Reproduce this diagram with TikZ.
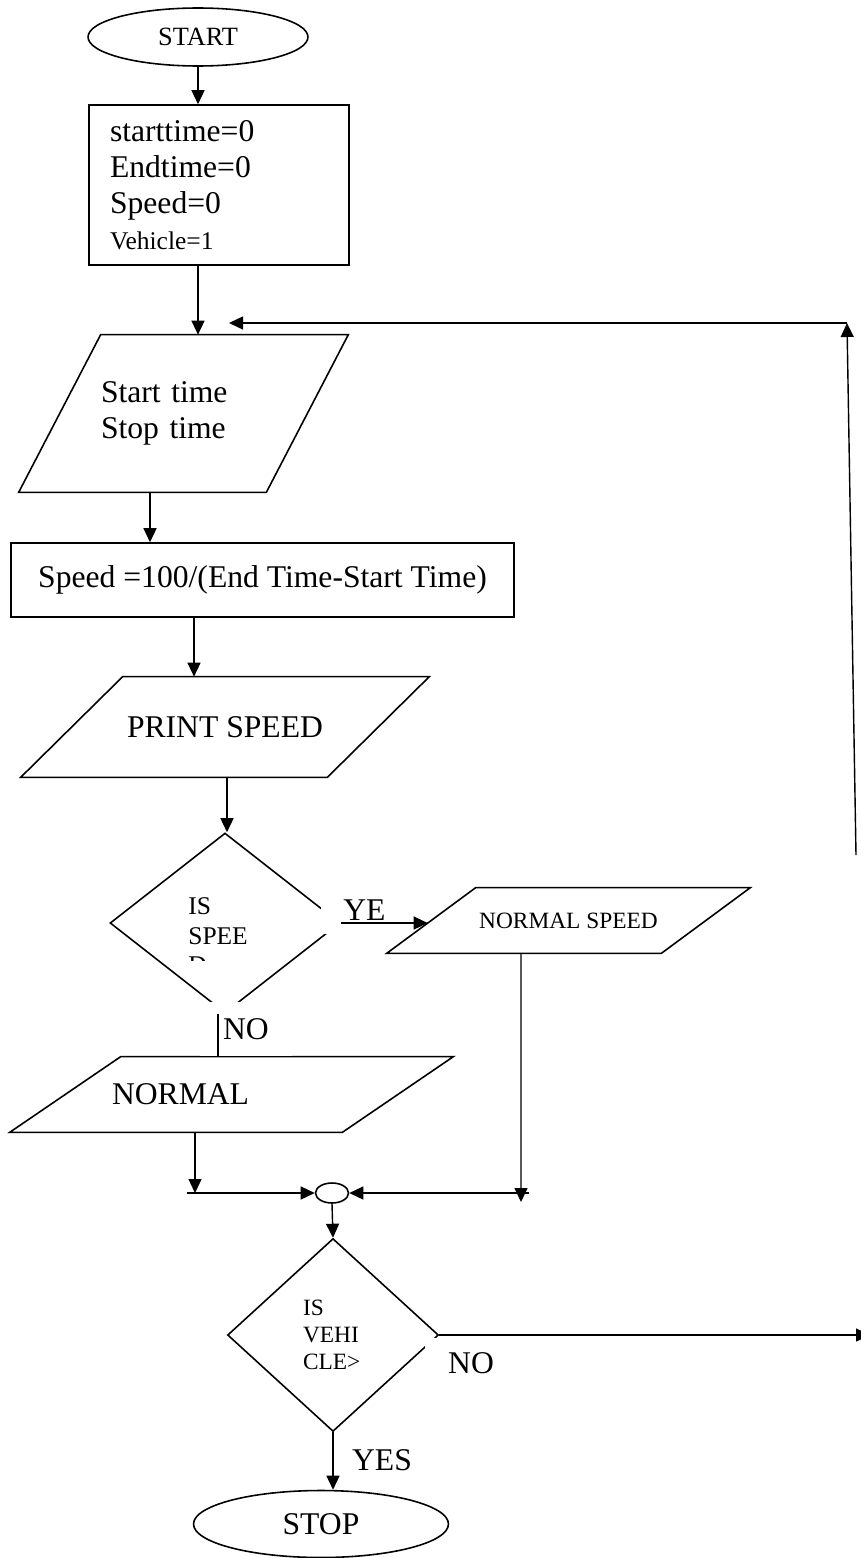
\documentclass[tikz,border=0pt]{standalone}
\usepackage{fontspec}
\setmainfont{Liberation Serif}
\usepackage{tikz}
\usetikzlibrary{arrows.meta,positioning,shapes.geometric,calc}
\newcommand{\txtL}{\fontsize{18}{20.5}\selectfont}
\newcommand{\txtM}{\fontsize{14.5}{17}\selectfont}
\newcommand{\txtS}{\fontsize{13.3}{15.3}\selectfont}
\tikzset{
  process/.style={rectangle, draw, line width=0.9pt, inner sep=0pt, font=\txtL},
  io/.style={rectangle, inner sep=0pt, font=\txtL},
  outline/.style={line width=0.9pt, line join=miter},
  decision/.style={diamond, draw, line width=0.9pt, inner sep=0pt},
  terminal/.style={ellipse, draw, line width=0.9pt, inner sep=0pt, font=\txtL},
  joint/.style={ellipse, draw, line width=0.9pt, inner sep=0pt, minimum width=0.66cm, minimum height=0.4cm},
  arrow/.style={-{Triangle[length=2.8mm,width=2.6mm]}, line width=0.8pt},
  line/.style={line width=0.8pt},
  tag/.style={inner sep=0pt, font=\txtL}
}

\begin{document}
\begin{tikzpicture}[x=0.02cm, y=-0.02cm]
\useasboundingbox (0,0) rectangle (860,1558);
% boxes
\node[terminal, minimum width=4.4cm, minimum height=1.16cm, font=\fontsize{15}{17}\selectfont] (start) at (198,37) {START};
\node[process, minimum width=5.2cm, minimum height=3.2cm, text width=4.36cm, align=left] (init) at (219,185) {starttime=0\\Endtime=0\\Speed=0\\{\txtM Vehicle=1}};
\node[io, minimum width=6.58cm, minimum height=3.14cm, text width=3.3cm, align=left] (readtime) at (183.5,413.5) {Start time\\Stop time};
\draw[outline] ([xshift=1.64cm]readtime.north west) -- (readtime.north east) -- ([xshift=-1.64cm]readtime.south east) -- (readtime.south west) -- cycle;
\node[process, minimum width=10.06cm, minimum height=1.48cm] (speedcalc) at (262.5,580) {Speed =100/(End Time-Start Time)};
\node[io, minimum width=8.16cm, minimum height=2cm] (printspeed) at (225,727) {PRINT SPEED};
\draw[outline] ([xshift=2.04cm]printspeed.north west) -- (printspeed.north east) -- ([xshift=-2.04cm]printspeed.south east) -- (printspeed.south west) -- cycle;
\node[decision, minimum width=4.6cm, minimum height=3.6cm] (speedtest) at (225,923) {};
\node[io, minimum width=7.26cm, minimum height=1.3cm, font=\txtS] (normalspeed) at (568.5,920.5) {NORMAL SPEED};
\draw[outline] ([xshift=1.78cm]normalspeed.north west) -- (normalspeed.north east) -- ([xshift=-1.78cm]normalspeed.south east) -- (normalspeed.south west) -- cycle;
\node[io, minimum width=8.86cm, minimum height=1.5cm, text width=4.78cm, align=left] (normal) at (231.5,1094.5) {NORMAL};
\draw[outline] ([xshift=2.22cm]normal.north west) -- (normal.north east) -- ([xshift=-2.22cm]normal.south east) -- (normal.south west) -- cycle;
\node[joint] (join) at (332,1193) {};
\node[decision, minimum width=4.22cm, minimum height=3.86cm, font=\txtS, text width=1.2cm, align=left] (vehicletest) at (333,1335) {IS\\VEHI\\CLE>};
\node[terminal, minimum width=5.1cm, minimum height=1.34cm] (stop) at (321,1524) {STOP};

% text of the first test, cut off at the bottom
\begin{scope}
  \clip (180,880) rectangle (300,960);
  \node[anchor=north west, inner sep=0pt, align=left, font=\txtM] (speedq) at (188,897) {IS\\SPEE\\D};
\end{scope}

% labels
\node[tag, fill=white, minimum width=1.3cm, minimum height=0.96cm, text width=1.3cm, align=right] (yeslbl) at (353,910) {YE};
\node[tag, fill=white, minimum width=1.84cm, minimum height=1.08cm] (nolbl) at (246,1029) {NO};
\node[tag, fill=white, minimum width=1.84cm, minimum height=1cm] (nolbl2) at (471,1363) {NO};
\node[tag] (yeslbl2) at (382,1460) {YES};

% connectors
\draw[arrow] (start.south) -- (start.south |- init.north);
\draw[arrow] (start.south |- init.south) -- (start.south |- readtime.north);
\draw[arrow] ([xshift=-0.67cm]readtime.south) -- ([xshift=-0.67cm]readtime.south |- speedcalc.north);
\draw[arrow] ([xshift=-1.37cm]speedcalc.south) -- ([xshift=-1.37cm]speedcalc.south |- printspeed.north);
\draw[arrow] ([xshift=0.04cm]printspeed.south) -- ([xshift=0.04cm]printspeed.south |- speedtest.north);
\draw[arrow] (speedtest.east) -- ([xshift=0.82cm]speedtest.east -| normalspeed.west);
\draw[line] ([xshift=-0.14cm]speedtest.south) -- ([xshift=-0.14cm]speedtest.south |- normal.north);

\coordinate (dropR) at (521,1202);
\coordinate (barR) at (529,1193);
\coordinate (barL) at (187,1193);
\draw[arrow] ([xshift=-0.95cm]normalspeed.south) -- (dropR);
\draw[arrow] ([xshift=-0.73cm]normal.south) -- ([xshift=-0.73cm]normal.south |- join.west);
\draw[arrow] (barR) -- (join.east);
\draw[arrow] (barL) -- (join.west);
\draw[arrow] (join.south) -- (vehicletest.north);

% loop back
\coordinate (loopout) at (870,1335);
\coordinate (loopfoot) at (856,855);
\coordinate (loophead) at (847,323);
\coordinate (loopin) at (229,323);
\draw[arrow] (vehicletest.east) -- (loopout);
\draw[arrow] (loopfoot) -- (loophead);
\draw[arrow] (loophead) -- (loopin);

\draw[arrow] (vehicletest.south) -- (vehicletest.south |- stop.north);
\end{tikzpicture}
\end{document}
